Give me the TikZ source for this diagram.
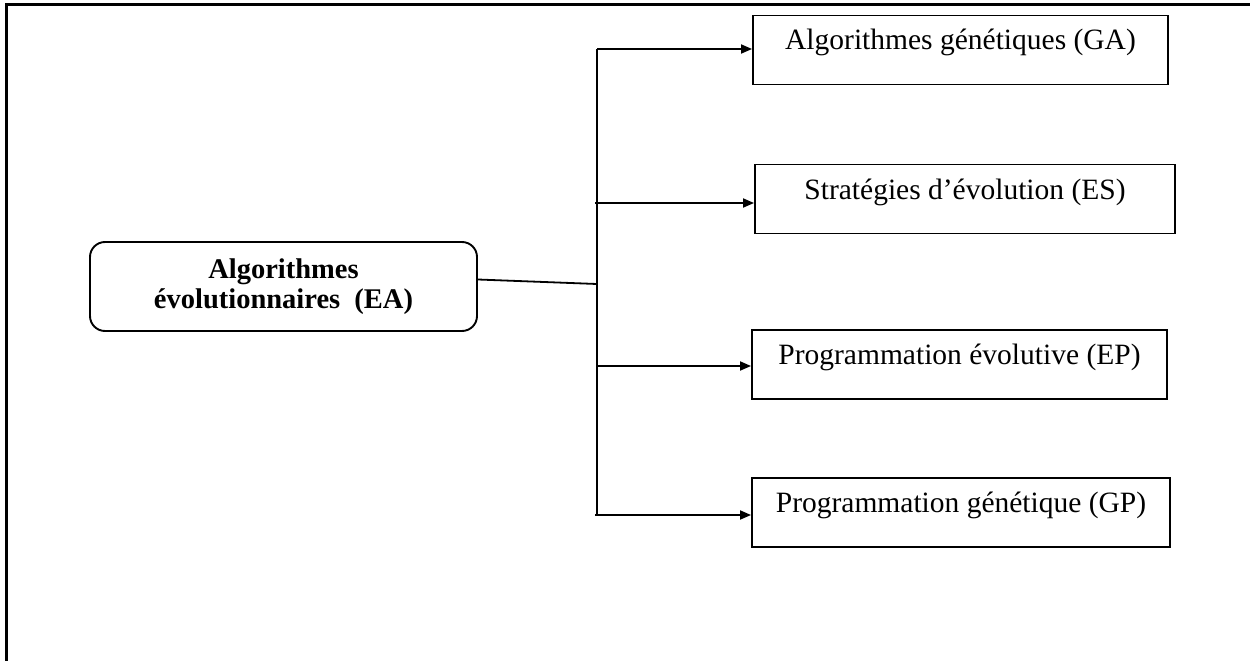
\documentclass[tikz,border=0pt]{standalone}
\usepackage{fontspec}
\setmainfont{Liberation Serif}
\usetikzlibrary{arrows.meta}
\begin{document}
\begin{tikzpicture}[x=1pt,y=-1pt,
  leaf/.style={draw,line width=1.9pt,minimum height=69pt,inner sep=0pt,
    text height=22pt,text depth=22pt,font=\fontsize{29.5}{32}\selectfont},
  root/.style={draw,line width=1.9pt,rounded corners=15pt,minimum width=387pt,
    minimum height=89pt,align=center,inner sep=0pt,
    font=\fontsize{28.5}{30}\selectfont\bfseries},
  link/.style={line width=1.8pt},
  arr/.style={line width=1.8pt,-{Triangle[length=11pt,width=9pt]}}]
  \useasboundingbox (0,0) rectangle (1250,661);
  \fill[white] (0,0) rectangle (1250,661);
  % page frame
  \draw[line width=2.5pt] (6.5,661) -- (6.5,4.5) -- (1250,4.5);

  % root and leaves
  \node[root] (ea) at (283.5,286.5) {Algorithmes\\évolutionnaires\ \ (EA)};
  \node[leaf,minimum width=415pt] (ga) at (960.5,50) {Algorithmes génétiques (GA)};
  \node[leaf,minimum width=420pt] (es) at (965,199) {Stratégies d’évolution (ES)};
  \node[leaf,minimum width=415pt] (ep) at (959.5,364.5) {Programmation évolutive (EP)};
  \node[leaf,minimum width=418pt] (gp) at (961,512.5) {Programmation génétique (GP)};

  % trunk points
  \coordinate (j) at (597,284);
  \coordinate (tga) at (597,49);
  \coordinate (tes) at (595,203);
  \coordinate (tep) at (597,366);
  \coordinate (tgp) at (595,515);

  \draw[link] ([yshift=7pt]ea.east) -- (j);
  \draw[link] (tga) -- (tga |- tgp);
  \draw[arr] (tga) -- (tga -| ga.west);
  \draw[arr] (tes) -- (tes -| es.west);
  \draw[arr] (tep) -- (tep -| ep.west);
  \draw[arr] (tgp) -- (tgp -| gp.west);
\end{tikzpicture}
\end{document}
